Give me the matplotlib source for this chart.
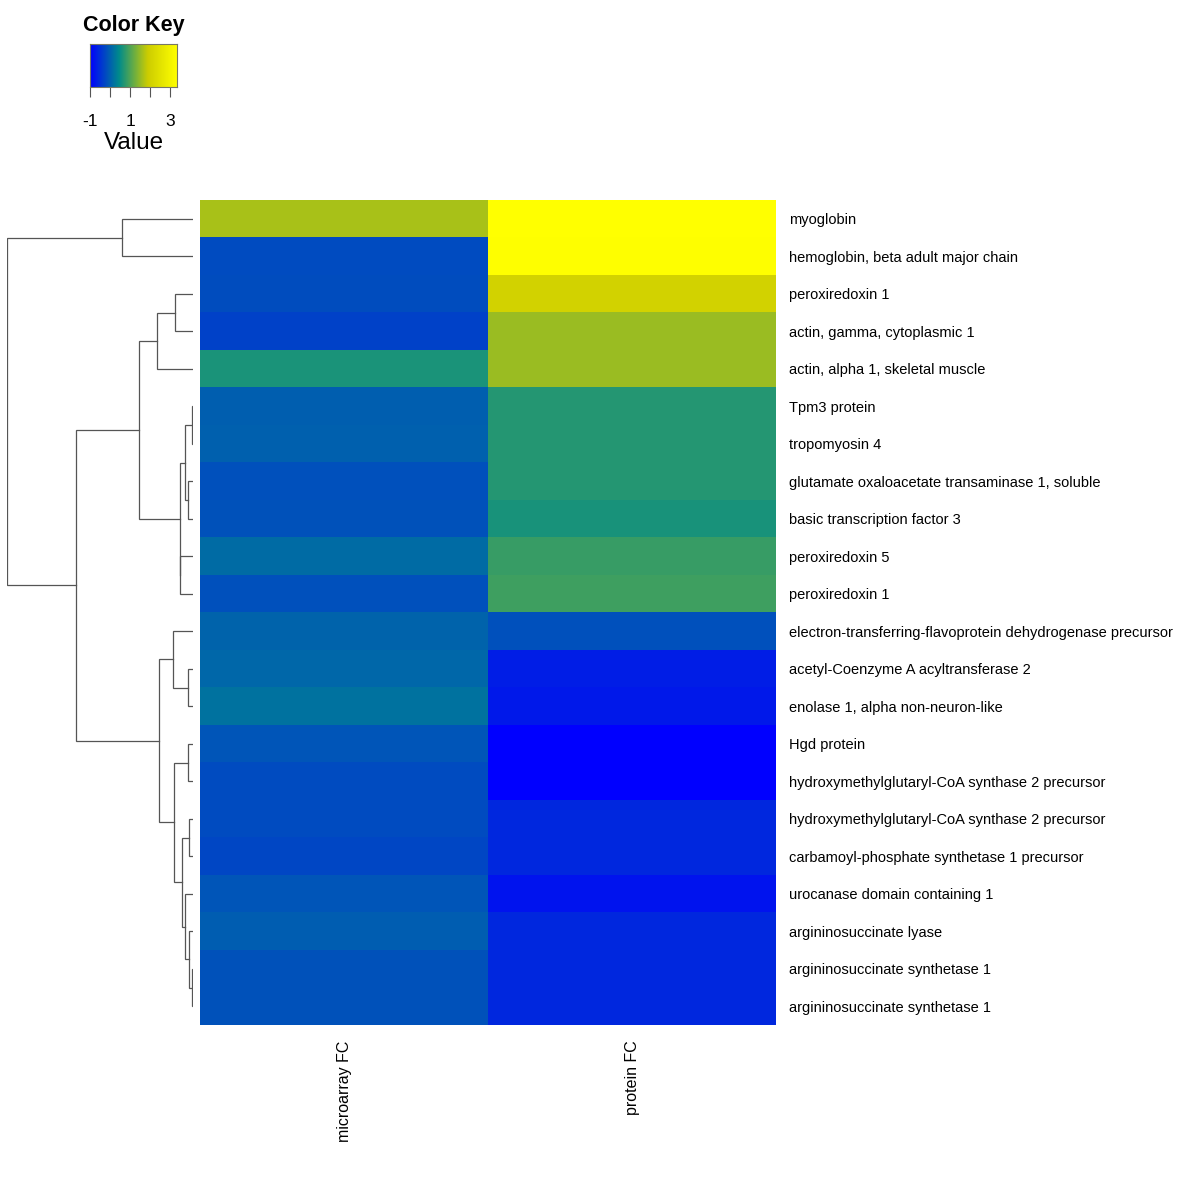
import numpy as np
import matplotlib
matplotlib.use("Agg")
import matplotlib.pyplot as plt
from matplotlib.colors import LinearSegmentedColormap

plt.rcParams['font.family'] = ['Liberation Sans', 'DejaVu Sans']

# --- data -------------------------------------------------------------
genes = [
    "myoglobin",
    "hemoglobin, beta adult major chain",
    "peroxiredoxin 1",
    "actin, gamma, cytoplasmic 1",
    "actin, alpha 1, skeletal muscle",
    "Tpm3 protein",
    "tropomyosin 4",
    "glutamate oxaloacetate transaminase 1, soluble",
    "basic transcription factor 3",
    "peroxiredoxin 5",
    "peroxiredoxin 1",
    "electron-transferring-flavoprotein dehydrogenase precursor",
    "acetyl-Coenzyme A acyltransferase 2",
    "enolase 1, alpha non-neuron-like",
    "Hgd protein",
    "hydroxymethylglutaryl-CoA synthase 2 precursor",
    "hydroxymethylglutaryl-CoA synthase 2 precursor",
    "carbamoyl-phosphate synthetase 1 precursor",
    "urocanase domain containing 1",
    "argininosuccinate lyase",
    "argininosuccinate synthetase 1",
    "argininosuccinate synthetase 1",
]
samples = ["microarray FC", "protein FC"]

microarray_fc = [1.63, -0.22, -0.20, -0.32, 0.63, -0.01, 0.00, -0.17, -0.15, 0.12, -0.17,
                 0.04, 0.08, 0.20, -0.12, -0.22, -0.22, -0.27, -0.12, -0.02, -0.15, -0.15]
protein_fc = [3.33, 3.30, 2.03, 1.53, 1.53, 0.70, 0.70, 0.70, 0.61, 0.83, 0.89,
              -0.17, -0.69, -0.74, -1.00, -1.00, -0.58, -0.58, -0.79, -0.58, -0.58, -0.58]

# row dendrogram, scipy-style merges: [left id, right id, height]; ids >= 22 are earlier merges
row_merges = [
    [5, 6, 1.3], [20, 21, 1.3], [16, 17, 3.7], [19, 23, 4.3], [12, 13, 4.7],
    [7, 8, 5.3], [14, 15, 5.3], [18, 25, 7.7], [22, 27, 8.0], [24, 29, 10.7],
    [9, 10, 12.7], [30, 32, 13.3], [2, 3, 18.0], [28, 31, 18.7], [11, 26, 19.7],
    [36, 35, 33.7], [34, 4, 36.0], [38, 33, 54.0], [0, 1, 71.0], [39, 37, 117.0],
    [40, 41, 186.0],
]

key_ticks = [-1, 0, 1, 2, 3]
key_labels = ["-1", "", "1", "", "3"]

vmin, vmax = -1.0, 3.33
cmap = LinearSegmentedColormap.from_list(
    "key", [(0.0, "#0000FF"), (1 / 3, "#008B8B"), (2 / 3, "#CDCD00"), (1.0, "#FFFF00")])

values = np.column_stack([microarray_fc, protein_fc])
n_rows = len(genes)

# --- figure -----------------------------------------------------------
W = H = 1200
fig = plt.figure(figsize=(12, 12), dpi=100)


def px_axes(x0, y0, x1, y1):
    return fig.add_axes([x0 / W, 1 - y1 / H, (x1 - x0) / W, (y1 - y0) / H])


# heatmap
ax = px_axes(200, 200, 776, 1025)
ax.imshow(values, cmap=cmap, vmin=vmin, vmax=vmax, aspect="auto",
          interpolation="nearest", extent=(-0.5, 1.5, n_rows - 0.5, -0.5))
ax.set_xlim(-0.5, 1.5)
ax.set_ylim(n_rows - 0.5, -0.5)
ax.yaxis.tick_right()
ax.set_yticks(range(n_rows))
ax.set_yticklabels(genes, fontsize=10.5)
ax.set_xticks(range(len(samples)))
ax.set_xticklabels(samples, rotation=90, fontsize=11.5, va="top")
ax.tick_params(length=0)
ax.tick_params(axis="y", pad=9.5)
ax.tick_params(axis="x", pad=11)
for s in ax.spines.values():
    s.set_visible(False)

# row dendrogram
dax = px_axes(7, 200, 193, 1025)
pos = {i: (0.0, float(i)) for i in range(n_rows)}
for k, (a, b, h) in enumerate(row_merges):
    ha, ya = pos[a]
    hb, yb = pos[b]
    dax.plot([ha, h, h, hb], [ya, ya, yb, yb], color="#555555", lw=0.9,
             solid_joinstyle="miter")
    pos[n_rows + k] = (h, (ya + yb) / 2)
dax.set_xlim(row_merges[-1][2], 0)
dax.set_ylim(n_rows - 0.5, -0.5)
dax.axis("off")

# color key
kax = px_axes(90, 44, 177, 87)
grad = np.linspace(vmin, vmax, 256).reshape(1, -1)
kax.imshow(grad, cmap=cmap, vmin=vmin, vmax=vmax, aspect="auto",
           extent=(vmin, vmax, 0, 1))
kax.set_xlim(vmin, vmax)
kax.set_yticks([])
kax.set_xticks(key_ticks)
kax.set_xticklabels(key_labels, fontsize=12.5)
kax.tick_params(axis="x", length=7, width=0.8, color="#555555", pad=12.5)
for s in kax.spines.values():
    s.set_color("#777766")
    s.set_linewidth(0.8)
kax.set_title("Color Key", fontsize=15.5, fontweight="bold", pad=9)
fig.text(133.5 / W, 1 - 143 / H, "Value", fontsize=17.5, ha="center", va="center")

fig.savefig("out.png", dpi=100, facecolor="white")
